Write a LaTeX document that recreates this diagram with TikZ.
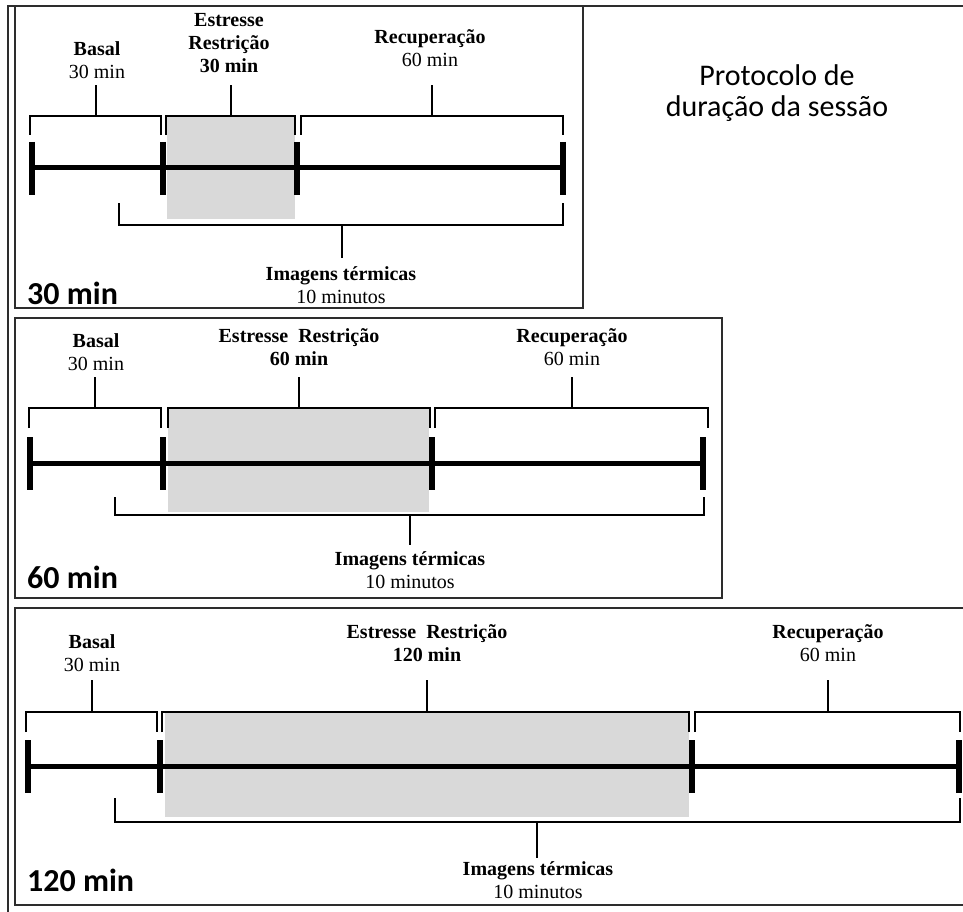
\documentclass[tikz,border=0pt]{standalone}
\usepackage{fontspec}
\setmainfont{Liberation Serif}
\newfontfamily\carlito{Carlito}
\definecolor{shade}{RGB}{217,217,217}
\definecolor{frame}{RGB}{45,45,45}
\begin{document}
\begin{tikzpicture}[x=1pt,y=-1pt,
  mainline/.style={line width=5pt},
  tickmark/.style={line width=6pt},
  brk/.style={line width=2.4pt},
  panelbox/.style={draw=frame,line width=1.6pt},
  shadebox/.style={fill=shade},
  lbl/.style={font=\fontsize{20}{23}\selectfont,align=center,inner sep=0pt},
  bigl/.style={font=\carlito\bfseries\fontsize{32}{34}\selectfont,anchor=west,inner sep=0pt},
  title/.style={font=\carlito\fontsize{30}{31}\selectfont,align=center,inner sep=0pt}]
\useasboundingbox (0,0) rectangle (963,912);
\fill[white] (0,0) rectangle (963,912);
% outer frame
\coordinate (fo1) at (8,912);
\coordinate (fo2) at (8,6);
\coordinate (fo3) at (970,6);
\draw[draw=frame,line width=1.6pt] (fo1) -- (fo2) -- (fo3);
% panel boxes
\draw[panelbox] (15,6) rectangle (583,308);
\draw[panelbox] (15,318) rectangle (722,598);
\draw[panelbox] (15,608) rectangle (975,905);
% title
\node[title] (title) at (777,93) {Protocolo de\\duração da sessão};

% ===== panel 1 =====
\fill[shadebox] (167,117) rectangle (295,219);
\coordinate (a1) at (32,168); \coordinate (d1) at (563,168);
\draw[mainline] (a1) -- (d1);
\foreach \x in {32,163,297,563} \draw[tickmark] (\x,142) -- (\x,195);
\draw[brk] (30,135) |- (161,116) -- (161,135);
\draw[brk] (166,135) |- (295,116) -- (295,135);
\draw[brk] (301,135) |- (563,116) -- (563,135);
\draw[brk] (119,203) |- (563,225) -- (563,203);
\node[lbl] (basal1) at (97,60) {\textbf{Basal}\\30 min};
\node[lbl] (est1) at (229,43) {\textbf{Estresse}\\\textbf{Restrição}\\\textbf{30 min}};
\node[lbl] (rec1) at (430,48) {\textbf{Recuperação}\\60 min};
\node[lbl] (img1) at (341,285) {\textbf{Imagens térmicas}\\10 minutos};
\draw[brk] (96,116) -- (96,85);
\draw[brk] (231,116) -- (231,85);
\draw[brk] (432,116) -- (432,85);
\draw[brk] (342,225) -- (342,258);
\node[bigl] (lab1) at (27,293) {30 min};

% ===== panel 2 =====
\fill[shadebox] (168,409) rectangle (429,512);
\coordinate (a2) at (30,463); \coordinate (d2) at (703,463);
\draw[mainline] (a2) -- (d2);
\foreach \x in {30,163,432,703} \draw[tickmark] (\x,437) -- (\x,490);
\draw[brk] (29,428) |- (161,408) -- (161,428);
\draw[brk] (168,428) |- (430,408) -- (430,428);
\draw[brk] (435,428) |- (708,408) -- (708,428);
\draw[brk] (115,497) |- (704,515) -- (704,497);
\node[lbl] (basal2) at (96,352) {\textbf{Basal}\\30 min};
\node[lbl] (est2) at (299,347) {\textbf{Estresse~~Restrição}\\\textbf{60 min}};
\node[lbl] (rec2) at (572,347) {\textbf{Recuperação}\\60 min};
\node[lbl] (img2) at (410,570) {\textbf{Imagens térmicas}\\10 minutos};
\draw[brk] (95,408) -- (95,377);
\draw[brk] (299,408) -- (299,377);
\draw[brk] (572,408) -- (572,377);
\draw[brk] (410,515) -- (410,545);
\node[bigl] (lab2) at (27,577) {60 min};

% ===== panel 3 =====
\fill[shadebox] (165,713) rectangle (689,817);
\coordinate (a3) at (28,766); \coordinate (d3) at (959,766);
\draw[mainline] (a3) -- (d3);
\foreach \x in {28,160,692,959} \draw[tickmark] (\x,740) -- (\x,793);
\draw[brk] (26,732) |- (157,712) -- (157,732);
\draw[brk] (162,732) |- (689,712) -- (689,732);
\draw[brk] (695,732) |- (960,712) -- (960,732);
\draw[brk] (115,798) |- (960,822) -- (960,798);
\node[lbl] (basal3) at (92,653) {\textbf{Basal}\\30 min};
\node[lbl] (est3) at (427,643) {\textbf{Estresse~~Restrição}\\\textbf{120 min}};
\node[lbl] (rec3) at (828,643) {\textbf{Recuperação}\\60 min};
\node[lbl] (img3) at (538,880) {\textbf{Imagens térmicas}\\10 minutos};
\draw[brk] (92,712) -- (92,680);
\draw[brk] (427,712) -- (427,680);
\draw[brk] (828,712) -- (828,680);
\draw[brk] (537,822) -- (537,858);
\node[bigl] (lab3) at (27,880) {120 min};
\end{tikzpicture}
\end{document}
